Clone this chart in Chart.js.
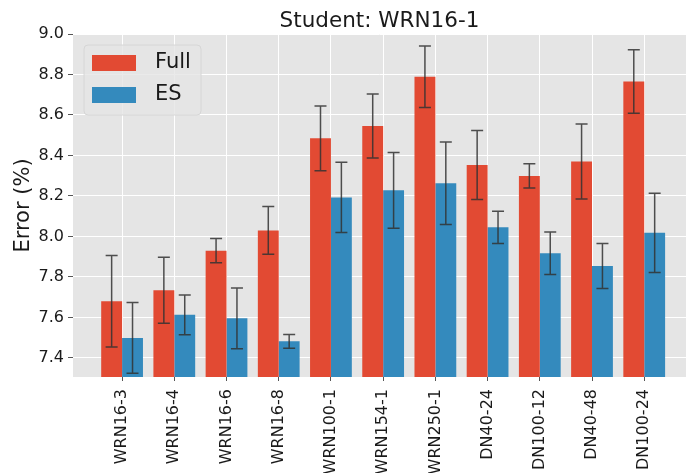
<!DOCTYPE html>
<html lang="en">
<head>
  <meta charset="UTF-8">
  <title>Student: WRN16-1</title>
  <script src="https://cdn.jsdelivr.net/npm/chart.js"></script>
  <style>
    body { margin: 0; background: #fff; }
  </style>
</head>
<body>
  <canvas id="errorChart" width="686" height="473"></canvas>

  <script>
    // teacher models
    const models = ['WRN16-3', 'WRN16-4', 'WRN16-6', 'WRN16-8', 'WRN100-1', 'WRN154-1',
                    'WRN250-1', 'DN40-24', 'DN100-12', 'DN40-48', 'DN100-24'];

    // mean error (%) and std
    const fullErr = [7.68, 7.735, 7.93, 8.03, 8.485, 8.546, 8.789, 8.353, 8.299, 8.37, 8.765];
    const fullStd = [0.226, 0.163, 0.06, 0.118, 0.16, 0.158, 0.152, 0.17, 0.06, 0.185, 0.157];
    const esErr   = [7.499, 7.613, 7.596, 7.482, 8.193, 8.228, 8.263, 8.045, 7.917, 7.854, 8.018];
    const esStd   = [0.175, 0.098, 0.15, 0.034, 0.173, 0.187, 0.204, 0.08, 0.105, 0.111, 0.196];

    const yTicks = [7.4, 7.6, 7.8, 8.0, 8.2, 8.4, 8.6, 8.8, 9.0];
    const titleText = 'Student: WRN16-1';

    const stds = [fullStd, esStd];

    // grey axes background (ggplot style) + title centred over the axes
    const plotBackground = {
      id: 'plotBackground',
      beforeDraw(chart) {
        const { ctx, chartArea: a } = chart;
        ctx.save();
        ctx.fillStyle = '#E5E5E5';
        ctx.fillRect(a.left, a.top, a.right - a.left, a.bottom - a.top);
        ctx.fillStyle = '#1a1a1a';
        ctx.font = '21.5px "DejaVu Sans"';
        ctx.textAlign = 'center';
        ctx.textBaseline = 'alphabetic';
        ctx.fillText(titleText, (a.left + a.right) / 2, 27);
        ctx.restore();
      }
    };

    // error bars with caps
    const errorBars = {
      id: 'errorBars',
      afterDatasetsDraw(chart) {
        const ctx = chart.ctx;
        const y = chart.scales.y;
        ctx.save();
        ctx.strokeStyle = 'rgba(50,50,50,0.85)';
        ctx.lineWidth = 1.5;
        chart.data.datasets.forEach((ds, di) => {
          chart.getDatasetMeta(di).data.forEach((bar, i) => {
            const v = ds.data[i].y, s = stds[di][i];
            const yt = y.getPixelForValue(v + s), yb = y.getPixelForValue(v - s);
            ctx.beginPath();
            ctx.moveTo(bar.x, yt); ctx.lineTo(bar.x, yb);
            ctx.moveTo(bar.x - 6, yt); ctx.lineTo(bar.x + 6, yt);
            ctx.moveTo(bar.x - 6, yb); ctx.lineTo(bar.x + 6, yb);
            ctx.stroke();
          });
        });
        ctx.restore();
      }
    };

    // legend inside upper left corner
    const innerLegend = {
      id: 'innerLegend',
      afterDraw(chart) {
        const { ctx, chartArea: a } = chart;
        const x0 = a.left + 11, y0 = a.top + 11;
        ctx.save();
        ctx.fillStyle = 'rgba(229,229,229,0.8)';
        ctx.strokeStyle = '#d6d6d6';
        ctx.lineWidth = 1;
        ctx.beginPath();
        ctx.roundRect(x0, y0, 117, 70, 4);
        ctx.fill();
        ctx.stroke();
        ctx.font = '21px "DejaVu Sans"';
        ctx.textBaseline = 'middle';
        chart.data.datasets.forEach((ds, i) => {
          const cy = y0 + 18 + i * 32;
          ctx.fillStyle = ds.backgroundColor;
          ctx.fillRect(x0 + 8, cy - 8, 44, 16);
          ctx.fillStyle = '#1a1a1a';
          ctx.fillText(ds.label, x0 + 71, cy);
        });
        ctx.restore();
      }
    };

    new Chart(document.getElementById('errorChart'), {
      type: 'bar',
      data: {
        datasets: [
          {
            label: 'Full',
            data: fullErr.map((v, i) => ({ x: i, y: v })),
            backgroundColor: '#E24A33',
          },
          {
            label: 'ES',
            data: esErr.map((v, i) => ({ x: i, y: v })),
            backgroundColor: '#348ABD',
          },
        ],
      },
      options: {
        responsive: false,
        animation: false,
        categoryPercentage: 0.8,
        barPercentage: 1.0,
        layout: { padding: { top: 34, left: 0, right: 0, bottom: 0 } },
        plugins: {
          legend: { display: false },
          tooltip: { enabled: false },
          title: { display: false },
        },
        scales: {
          x: {
            type: 'linear',
            min: -0.94,
            max: 10.8,
            offset: false,
            afterBuildTicks: s => { s.ticks = models.map((_, i) => ({ value: i })); },
            afterFit: s => { s.height = 96; },
            ticks: {
              callback: v => models[v],
              minRotation: 90,
              maxRotation: 90,
              autoSkip: false,
              padding: 8,
              color: '#1a1a1a',
              font: { family: 'DejaVu Sans', size: 16 },
            },
            grid: { color: '#ffffff', lineWidth: 1, tickColor: '#555', tickLength: 4, offset: false },
            border: { display: false },
          },
          y: {
            min: 7.306,
            max: 9.0,
            afterBuildTicks: s => { s.ticks = yTicks.map(v => ({ value: v })); },
            afterFit: s => { s.width = 73; },
            ticks: {
              callback: v => v.toFixed(1),
              padding: 4,
              color: '#1a1a1a',
              font: { family: 'DejaVu Sans', size: 16 },
            },
            title: {
              display: true,
              text: 'Error (%)',
              color: '#1a1a1a',
              font: { family: 'DejaVu Sans', size: 21 },
              padding: { top: 11, bottom: 0 },
            },
            grid: { color: '#ffffff', lineWidth: 1, tickColor: '#555', tickLength: 5 },
            border: { display: false },
          },
        },
      },
      plugins: [plotBackground, errorBars, innerLegend],
    });
  </script>
</body>
</html>
